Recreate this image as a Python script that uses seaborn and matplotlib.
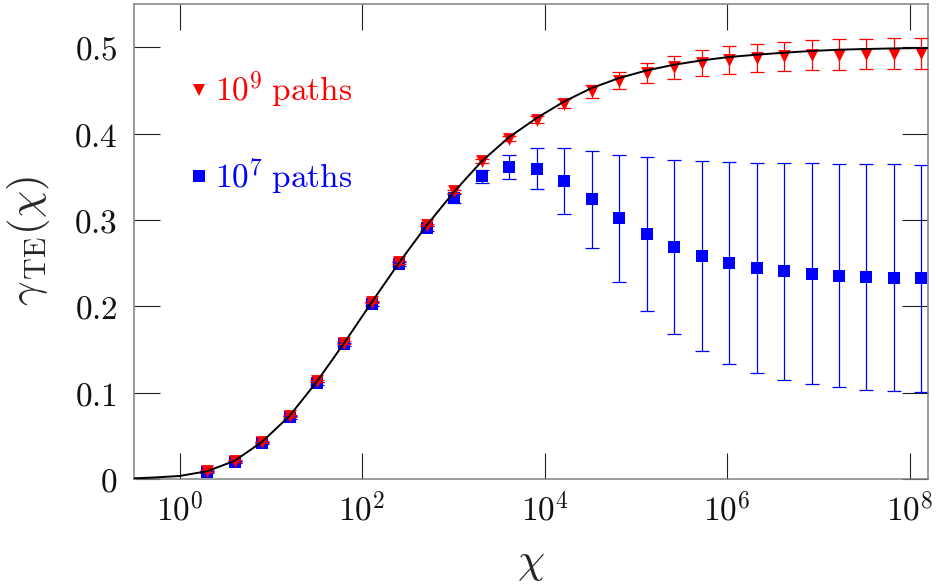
import matplotlib
matplotlib.use("Agg")
import matplotlib.pyplot as plt
from matplotlib.lines import Line2D
from matplotlib.ticker import FuncFormatter, FixedLocator, NullLocator
import numpy as np
import pandas as pd
import seaborn as sns

# Simulation points (chi = 2^k, k = 1..27)
chi = [2, 4, 8, 16, 32, 64, 128, 256, 512, 1024, 2048, 4096, 8192, 16384,
       32768, 65536, 131072, 262144, 524288, 1048576, 2097152, 4194304,
       8388608, 16777216, 33554432, 67108864, 134217728]

# 10^9 paths
gamma_1e9 = [0.009, 0.021, 0.043, 0.073, 0.113, 0.158, 0.205, 0.251, 0.294,
             0.333, 0.3677, 0.394, 0.416, 0.4347, 0.449, 0.461, 0.470, 0.4766,
             0.4816, 0.485, 0.4878, 0.4894, 0.4907, 0.4915, 0.492, 0.4925, 0.4928]
err_1e9 = [0.001, 0.001, 0.001, 0.0012, 0.0012, 0.0013, 0.0014, 0.0015, 0.0016,
           0.0017, 0.0023, 0.003, 0.0039, 0.0052, 0.0073, 0.0097, 0.0116, 0.0135,
           0.0147, 0.0158, 0.0162, 0.0166, 0.0172, 0.0176, 0.0176, 0.0176, 0.0178]

# 10^7 paths
gamma_1e7 = [0.0083, 0.0195, 0.0415, 0.0715, 0.111, 0.156, 0.203, 0.249, 0.2905,
             0.325, 0.3503, 0.3615, 0.3594, 0.345, 0.3237, 0.302, 0.2835, 0.2688,
             0.2578, 0.250, 0.2445, 0.2405, 0.2375, 0.2356, 0.234, 0.2333, 0.2323]
err_1e7 = [0.001, 0.0012, 0.0014, 0.0016, 0.0018, 0.002, 0.0022, 0.0024, 0.0028,
           0.005, 0.0075, 0.0137, 0.0238, 0.038, 0.0557, 0.0735, 0.0888, 0.1008,
           0.110, 0.117, 0.1217, 0.1254, 0.128, 0.1294, 0.1306, 0.1313, 0.1318]

# Analytic curve
theory_chi = [0.316, 0.5, 1] + chi + [1.585e8]
theory_gamma = [0.0008, 0.0016, 0.0035,
                0.009, 0.021, 0.043, 0.073, 0.113, 0.158, 0.205, 0.251, 0.294,
                0.333, 0.368, 0.396, 0.418, 0.4372, 0.4527, 0.4643, 0.4731,
                0.4797, 0.4847, 0.4886, 0.4913, 0.4936, 0.4956, 0.4971, 0.4979,
                0.4986, 0.4990, 0.4991]

legend_labels = [r"$10^9\;\mathrm{paths}$", r"$10^7\;\mathrm{paths}$"]
x_ticks = [1, 1e2, 1e4, 1e6, 1e8]
y_ticks = [0, 0.1, 0.2, 0.3, 0.4, 0.5]

sns.set_theme(style="ticks")
plt.rcParams["mathtext.fontset"] = "cm"
plt.rcParams["font.family"] = ["DejaVu Serif"]

df7 = pd.DataFrame({"chi": chi, "gamma": gamma_1e7, "err": err_1e7})
df9 = pd.DataFrame({"chi": chi, "gamma": gamma_1e9, "err": err_1e9})
dft = pd.DataFrame({"chi": theory_chi, "gamma": theory_gamma})

fig = plt.figure(figsize=(9.36, 5.86), dpi=100)
ax = fig.add_axes([134 / 936, 1 - 479 / 586, 794 / 936, 475 / 586])
ax.set_xscale("log")

ebkw = dict(fmt="none", capsize=5.2, elinewidth=0.9, capthick=0.9)
ax.errorbar(df7["chi"], df7["gamma"], yerr=df7["err"], ecolor="blue", zorder=2, **ebkw)
sns.scatterplot(data=df7, x="chi", y="gamma", marker="s", s=80, color="blue",
                linewidth=0, ax=ax, zorder=3, legend=False)
ax.errorbar(df9["chi"], df9["gamma"], yerr=df9["err"], ecolor="red", zorder=4, **ebkw)
sns.scatterplot(data=df9, x="chi", y="gamma", marker="v", s=85, color="red",
                linewidth=0, ax=ax, zorder=5, legend=False)
sns.lineplot(data=dft, x="chi", y="gamma", color="black", linewidth=1.4,
             ax=ax, zorder=6)

ax.set_xlim(10 ** -0.5, 10 ** 8.2)
ax.set_ylim(0, 0.55)
ax.xaxis.set_major_locator(FixedLocator(x_ticks))
ax.xaxis.set_minor_locator(NullLocator())
ax.yaxis.set_major_locator(FixedLocator(y_ticks))
ax.xaxis.set_major_formatter(FuncFormatter(
    lambda v, p: r"$10^{%d}$" % int(round(np.log10(v)))))
ax.yaxis.set_major_formatter(FuncFormatter(lambda v, p: r"$%g$" % v))

ax.tick_params(axis="both", which="major", direction="in", length=19,
               width=0.8, color="#222222", top=True, right=True,
               labelsize=24, labelcolor="#111111")
ax.tick_params(axis="x", pad=10)
ax.tick_params(axis="y", pad=12)
for sp in ax.spines.values():
    sp.set_color("#808080")
    sp.set_linewidth(1.1)

ax.set_xlabel(r"$\chi$", fontsize=31)
ax.set_ylabel(r"$\gamma_{\,\mathrm{TE}}(\chi)$", fontsize=31)
ax.xaxis.set_label_coords(0.5, -0.13)
ax.yaxis.set_label_coords(-0.103, 0.5)

handles = [
    Line2D([], [], marker="v", ls="none", color="red", markersize=9.2, markeredgewidth=0),
    Line2D([], [], marker="s", ls="none", color="blue", markersize=9.0, markeredgewidth=0),
]
ax.legend(handles, legend_labels, loc="upper left", bbox_to_anchor=(0.027, 0.925),
          frameon=False, fontsize=24, labelcolor=["red", "blue"],
          handlelength=0.8, handletextpad=0.1, labelspacing=1.38)

fig.savefig("out.png", dpi=100)
